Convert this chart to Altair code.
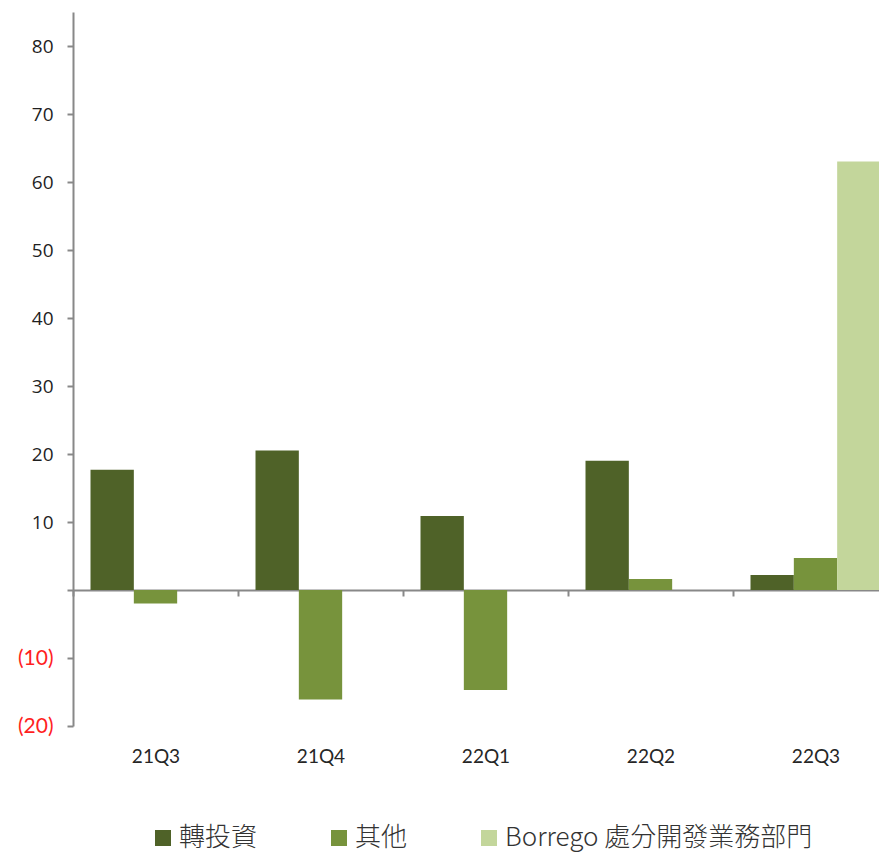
import altair as alt
import pandas as pd

quarters = ["21Q3", "21Q4", "22Q1", "22Q2", "22Q3"]
series = ["轉投資", "其他", "Borrego 處分開發業務部門"]
invest = [17.7, 20.5, 10.9, 19.0, 2.2]
other = [-2.0, -16.1, -14.7, 1.6, 4.7]
borrego = [None, None, None, None, 63.0]
colors = ["#4F6228", "#77933C", "#C3D69B"]
y_ticks = [-20, -10, 0, 10, 20, 30, 40, 50, 60, 70, 80]

rows = []
for name, vals in zip(series, [invest, other, borrego]):
    for q, v in zip(quarters, vals):
        if v is not None:
            rows.append({"quarter": q, "series": name, "value": v})
df = pd.DataFrame(rows)

AX = "#888888"

chart = alt.Chart(df).mark_bar().encode(
    x=alt.X(
        "quarter:N",
        sort=quarters,
        scale=alt.Scale(domain=quarters, paddingInner=0, paddingOuter=0, range=[0, 825]),
        axis=alt.Axis(
            title=None, labelAngle=0, offset=-136, tickBand="extent",
            domainColor=AX, domainWidth=2, tickColor=AX, tickWidth=2, tickSize=6,
            labelPadding=151, labelFont="Lato", labelFontSize=19, labelColor="#262626",
        ),
    ),
    xOffset=alt.XOffset(
        "series:N", sort=series,
        scale=alt.Scale(domain=series, paddingInner=0, paddingOuter=0.404),
    ),
    y=alt.Y(
        "value:Q",
        scale=alt.Scale(domain=[-20, 85], nice=False, zero=False),
        axis=alt.Axis(
            title=None, values=y_ticks, grid=False,
            labelExpr="datum.value == 0 ? '' : (datum.value < 0 ? '(' + abs(datum.value) + ')' : datum.label)",
            labelColor={"condition": {"test": "datum.value < 0", "value": "#FF1F1F"}, "value": "#1F1F1F"},
            labelFont={"condition": {"test": "datum.value < 0", "value": "Lato"}, "value": "Open Sans"},
            labelFontSize={"condition": {"test": "datum.value < 0", "value": 21}, "value": 19},
            domainColor=AX, domainWidth=2, tickColor=AX, tickWidth=2, tickSize=6,
            labelPadding=14,
        ),
    ),
    color=alt.Color(
        "series:N", sort=series,
        scale=alt.Scale(domain=series, range=colors),
        legend=alt.Legend(
            title=None, orient="none", direction="horizontal",
            legendX=77, legendY=813, padding=0,
            symbolType="square", symbolSize=256, symbolStrokeWidth=0,
            labelFont="Noto Sans CJK TC", labelFontSize=26, labelFontWeight=300,
            labelColor="#333333",
            columnPadding=68, labelOffset=3, labelLimit=600,
        ),
    ),
).properties(
    width=806, height=714,
    autosize=alt.AutoSizeParams(type="none"),
    padding={"left": 65, "top": 4, "right": 0, "bottom": 132},
).configure_view(stroke=None)

chart.save("out.html", embed_options={"renderer": "svg", "actions": False})
